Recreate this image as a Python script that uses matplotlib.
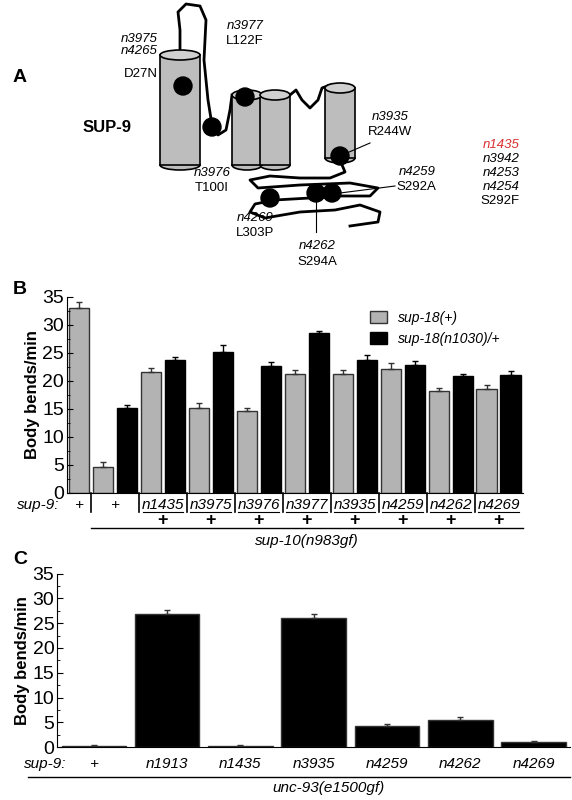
import matplotlib
matplotlib.use("Agg")
import matplotlib.pyplot as plt
import numpy as np
from matplotlib.patches import Rectangle, Ellipse

plt.rcParams['font.family'] = ['Liberation Sans', 'DejaVu Sans']

# Panel B data
b_alleles = ["n1435", "n3975", "n3976", "n3977", "n3935", "n4259", "n4262", "n4269"]
b_gray = [33.0, 4.6, 21.5, 15.1, 14.6, 21.3, 21.3, 22.1, 18.2, 18.6]
b_gray_err = [1.0, 0.9, 0.8, 1.0, 0.5, 0.6, 0.6, 1.0, 0.6, 0.7]
b_black = [15.1, 23.7, 25.1, 22.7, 28.6, 23.7, 22.9, 20.8, 21.1]
b_black_err = [0.6, 0.5, 1.3, 0.7, 0.3, 0.9, 0.7, 0.5, 0.7]

# Panel C data
c_labels = ["+", "n1913", "n1435", "n3935", "n4259", "n4262", "n4269"]
c_vals = [0.3, 26.8, 0.3, 26.1, 4.3, 5.5, 1.0]
c_err = [0.1, 0.8, 0.1, 0.8, 0.4, 0.6, 0.15]

fig = plt.figure(figsize=(5.72, 8.0), dpi=100)

# ---------- Panel A (schematic) ----------
axA = fig.add_axes([0, 0, 1, 1], zorder=-1)
axA.set_xlim(0, 572); axA.set_ylim(800, 0); axA.axis('off')

def cyl(x0, x1, ytop, ybot):
    w = x1 - x0
    axA.add_patch(Rectangle((x0, ytop), w, ybot - ytop, fc='#bdbdbd', ec='black', lw=1.2, zorder=2))
    axA.add_patch(Ellipse(((x0 + x1) / 2, ybot), w, 10, fc='#bdbdbd', ec='black', lw=1.2, zorder=1))
    axA.add_patch(Ellipse(((x0 + x1) / 2, ytop), w, 10, fc='#d0d0d0', ec='black', lw=1.2, zorder=3))

line_pts = [(180, 60), (180, 30), (178, 12), (186, 4), (200, 6), (206, 20), (204, 60), (208, 100),
            (212, 125), (218, 135), (226, 130), (230, 110), (232, 95)]
xs, ys = zip(*line_pts)
axA.plot(xs, ys, color='black', lw=2, zorder=1)
loop2 = [(290, 95), (296, 90), (302, 100), (310, 108), (318, 100), (322, 88), (330, 85), (335, 90)]
xs, ys = zip(*loop2); axA.plot(xs, ys, color='black', lw=2, zorder=1)
tail = [(340, 160), (345, 172), (330, 178), (300, 178), (270, 176), (250, 180), (258, 188), (300, 185),
        (350, 183), (378, 188), (370, 196), (340, 196), (310, 198), (275, 200), (255, 204), (250, 212),
        (265, 218), (300, 212), (335, 210), (360, 205), (380, 212), (378, 222), (350, 226)]
xs, ys = zip(*tail); axA.plot(xs, ys, color='black', lw=2, zorder=1)

cyl(160, 200, 55, 165)
cyl(232, 262, 95, 165)
cyl(260, 290, 95, 165)
cyl(325, 355, 88, 158)

for (x, y) in [(183, 86), (212, 127), (245, 97), (340, 156), (270, 198), (316, 193), (332, 193)]:
    axA.add_patch(plt.Circle((x, y), 9, color='black', zorder=5))

axA.plot([340, 370], [156, 143], color='black', lw=0.8)
axA.plot([340, 395], [193, 186], color='black', lw=0.8)
axA.plot([316, 316], [193, 232], color='black', lw=0.8)

axA.text(13, 77, "A", fontsize=14, fontweight='bold', va='center')
axA.text(83, 128, "SUP-9", fontsize=12, fontweight='bold', va='center')
fs = 9.5
axA.text(158, 45, "n3975\nn4265", fontsize=fs, style='italic', ha='right', va='center', linespacing=1.1)
axA.text(158, 74, "D27N", fontsize=fs, ha='right', va='center')
axA.text(212, 173, "n3976", fontsize=fs, style='italic', ha='center', va='center')
axA.text(212, 188, "T100I", fontsize=fs, ha='center', va='center')
axA.text(245, 26, "n3977", fontsize=fs, style='italic', ha='center', va='center')
axA.text(245, 41, "L122F", fontsize=fs, ha='center', va='center')
axA.text(390, 117, "n3935", fontsize=fs, style='italic', ha='center', va='center')
axA.text(390, 132, "R244W", fontsize=fs, ha='center', va='center')
axA.text(520, 145, "n1435", fontsize=fs, style='italic', color='#d93030', ha='right', va='center')
axA.text(520, 159, "n3942", fontsize=fs, style='italic', ha='right', va='center')
axA.text(520, 173, "n4253", fontsize=fs, style='italic', ha='right', va='center')
axA.text(520, 187, "n4254", fontsize=fs, style='italic', ha='right', va='center')
axA.text(520, 201, "S292F", fontsize=fs, ha='right', va='center')
axA.text(436, 172, "n4259", fontsize=fs, style='italic', ha='right', va='center')
axA.text(436, 187, "S292A", fontsize=fs, ha='right', va='center')
axA.text(255, 218, "n4269", fontsize=fs, style='italic', ha='center', va='center')
axA.text(255, 233, "L303P", fontsize=fs, ha='center', va='center')
axA.text(317, 246, "n4262", fontsize=fs, style='italic', ha='center', va='center')
axA.text(317, 262, "S294A", fontsize=fs, ha='center', va='center')
axA.text(13, 289, "B", fontsize=14, fontweight='bold', va='center')
axA.text(13, 560, "C", fontsize=14, fontweight='bold', va='center')

# ---------- Panel B ----------
axB = fig.add_axes([0.117, 0.384, 0.797, 0.245])
gray_pos = [0, 1] + [3 + 2 * i for i in range(8)]
black_pos = [2] + [4 + 2 * i for i in range(8)]
axB.bar(gray_pos, b_gray, width=0.86, color='#b3b3b3', edgecolor='#333333', lw=1,
        yerr=[np.zeros(len(b_gray)), b_gray_err], error_kw=dict(lw=1, capsize=2, ecolor='#333333'),
        label='sup-18(+)')
axB.bar(black_pos, b_black, width=0.86, color='black', edgecolor='black', lw=1,
        yerr=[np.zeros(len(b_black)), b_black_err], error_kw=dict(lw=1, capsize=2, ecolor='black'),
        label='sup-18(n1030)/+')
axB.set_xlim(-0.5, 18.5); axB.set_ylim(0, 35)
axB.set_yticks(range(0, 36, 5))
axB.set_yticks(np.arange(0, 36, 2.5), minor=True)
axB.tick_params(axis='y', labelsize=14, direction='in', length=4, pad=2)
axB.tick_params(axis='y', which='minor', direction='in', length=2)
axB.set_xticks([])
for s in ['top', 'right']:
    axB.spines[s].set_visible(False)
axB.set_ylabel("Body bends/min", fontsize=12, fontweight='bold', labelpad=2)
axB.legend(loc='upper right', bbox_to_anchor=(0.97, 0.97), frameon=False, prop=dict(style='italic', size=10),
           handlelength=1.2, handleheight=1.0, borderaxespad=0.2)
tr = axB.get_xaxis_transform()
axB.text(-2.6, -0.06, "sup-9:", transform=tr, fontsize=11, style='italic', ha='left', va='center', clip_on=False)
axB.text(0, -0.06, "+", transform=tr, fontsize=11, style='italic', ha='center', va='center')
axB.text(1.5, -0.06, "+", transform=tr, fontsize=11, style='italic', ha='center', va='center')
for i, a in enumerate(b_alleles):
    c = 3.5 + 2 * i
    axB.text(c, -0.06, a, transform=tr, fontsize=11, style='italic', ha='center', va='center')
    axB.plot([c - 0.85, c + 0.85], [-0.1, -0.1], transform=tr, color='black', lw=0.8, clip_on=False)
    axB.text(c, -0.14, "+", transform=tr, fontsize=13, fontweight='bold', ha='center', va='center')
for sep in [0.5] + [2.5 + 2 * i for i in range(8)]:
    axB.plot([sep, sep], [0, -0.1], transform=tr, color='black', lw=1.2, clip_on=False)
axB.plot([0.5, 18.5], [-0.18, -0.18], transform=tr, color='black', lw=1, clip_on=False)
axB.text(9.5, -0.245, "sup-10(n983gf)", transform=tr, fontsize=11, style='italic', ha='center', va='center')

# ---------- Panel C ----------
axC = fig.add_axes([0.10, 0.066, 0.897, 0.217])
xc = np.arange(len(c_vals))
axC.bar(xc, c_vals, width=0.88, color='black', edgecolor='#333333', lw=1,
        yerr=[np.zeros(len(c_vals)), c_err], error_kw=dict(lw=1, capsize=2, ecolor='#333333'))
axC.set_xlim(-0.5, 6.5); axC.set_ylim(0, 35)
axC.set_yticks(range(0, 36, 5))
axC.set_yticks(np.arange(0, 36, 2.5), minor=True)
axC.tick_params(axis='y', labelsize=14, direction='in', length=4, pad=2)
axC.tick_params(axis='y', which='minor', direction='in', length=2)
axC.set_xticks([])
for s in ['top', 'right']:
    axC.spines[s].set_visible(False)
axC.set_ylabel("Body bends/min", fontsize=12, fontweight='bold', labelpad=2)
trc = axC.get_xaxis_transform()
axC.text(-0.95, -0.095, "sup-9:", transform=trc, fontsize=11, style='italic', ha='left', va='center', clip_on=False)
for i, lab in enumerate(c_labels):
    axC.text(i, -0.095, lab, transform=trc, fontsize=11, style='italic', ha='center', va='center')
axC.plot([-0.9, 6.5], [-0.17, -0.17], transform=trc, color='black', lw=1, clip_on=False)
axC.text(3.2, -0.235, "unc-93(e1500gf)", transform=trc, fontsize=11, style='italic', ha='center', va='center')

fig.savefig("out.png", dpi=100)
